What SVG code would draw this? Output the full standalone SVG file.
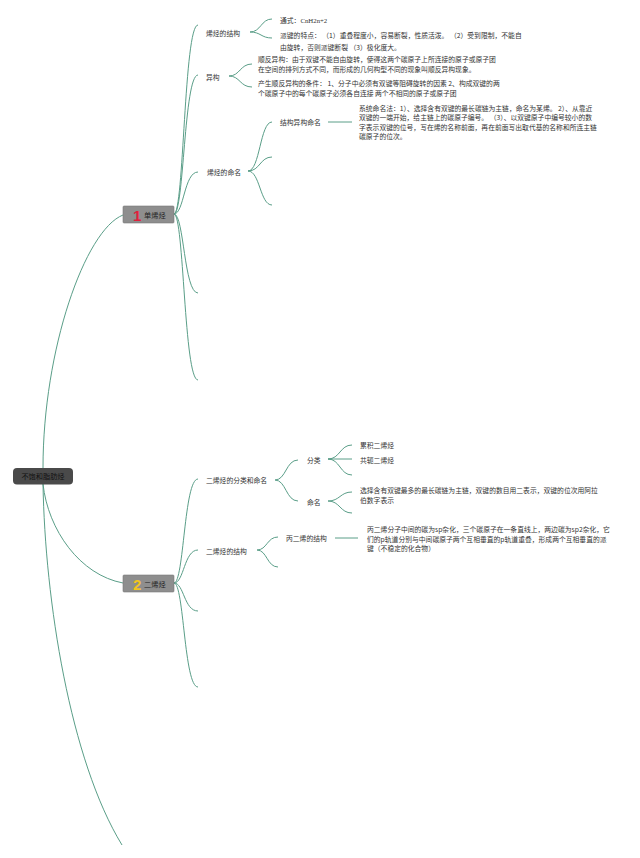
<svg xmlns="http://www.w3.org/2000/svg" width="640" height="858" viewBox="0 0 640 858">
<style>
.t{font-family:"Noto Sans CJK SC","Noto Sans",sans-serif;font-size:6.8px;fill:#333}
.c{fill:none;stroke:#5a9e88;stroke-width:1}
.box{fill:#8e8e8e;stroke:#7a7a7a;stroke-width:0.6}
.num{font-family:"Liberation Sans",sans-serif;font-weight:bold;font-size:15px}
</style>
<rect width="640" height="858" fill="#ffffff"/>
<g id="connectors">
<path class="c" d="M43,468 C43,350 85,230 123,215"/>
<path class="c" d="M43,484 C48,530 80,575 123,583"/>
<path class="c" d="M43,484 C45,600 70,760 122,845"/>
<path class="c" d="M174,214 C184,214 184,25 198,25"/>
<path class="c" d="M174,214 C184,214 184,75 198,75"/>
<path class="c" d="M174,214 C184,214 184,172 198,172"/>
<path class="c" d="M174,214 C184,214 184,293 198,293"/>
<path class="c" d="M174,214 C184,214 184,380 198,380"/>
<path class="c" d="M250,32 C261,32 261,19 272,19"/>
<path class="c" d="M250,32 C261,32 261,38 272,38"/>
<path class="c" d="M229,76 C240,76 240,64 252,64"/>
<path class="c" d="M229,76 C240,76 240,87 252,87"/>
<path class="c" d="M248,171 C260,171 260,122 272,122"/>
<path class="c" d="M248,171 C260,171 260,157 272,157"/>
<path class="c" d="M248,171 C260,171 260,205 272,205"/>
<path class="c" d="M328,122 L352,122"/>
<path class="c" d="M174,583 C184,583 184,479 198,479"/>
<path class="c" d="M174,583 C184,583 184,550 198,550"/>
<path class="c" d="M174,583 C184,583 184,611 198,611"/>
<path class="c" d="M174,583 C184,583 184,687 198,687"/>
<path class="c" d="M275,480 C286,480 286,460 298,460"/>
<path class="c" d="M275,480 C286,480 286,501 298,501"/>
<path class="c" d="M328,459 C340,459 340,445 352,445"/>
<path class="c" d="M328,459 L352,459"/>
<path class="c" d="M328,459 C340,459 340,475 352,475"/>
<path class="c" d="M328,501 C340,501 340,492 352,492"/>
<path class="c" d="M328,501 C340,501 340,513 352,513"/>
<path class="c" d="M257,550 C267,550 267,537 278,537"/>
<path class="c" d="M257,550 C267,550 267,567 278,567"/>
<path class="c" d="M335,538 L358,538"/>
</g>
<g id="root">
<rect x="13" y="468" width="60" height="16.5" rx="4" fill="#4a4a4a"/>
<text class="t" x="43" y="479" text-anchor="middle" style="font-size:7.2px;fill:#111">不饱和脂肪烃</text>
</g>
<g id="n1">
<rect class="box" x="123" y="206" width="51" height="17" rx="1"/>
<text class="num" x="133" y="220.5" fill="#e0203c">1</text>
<text class="t" x="144" y="217.5" style="font-size:7.2px;fill:#222">单烯烃</text>
</g>
<g id="n1a">
<text class="t" x="206" y="35.5">烯烃的结构</text>
</g>
<g id="n1a1">
<text class="t" x="280" y="23">通式：<tspan style="font-family:'Liberation Serif',serif">CnH2n+2</tspan></text>
</g>
<g id="n1a2">
<text class="t" x="280" y="37.5">派键的特点： （1）重叠程度小，容易断裂，性质活泼。 （2）受到限制，不能自</text>
<text class="t" x="280" y="49.5">由旋转，否则派键断裂 （3）极化度大。</text>
</g>
<g id="n1b">
<text class="t" x="206" y="79.5">异构</text>
</g>
<g id="n1b1">
<text class="t" x="258" y="61.5">顺反异构：由于双键不能自由旋转，使得这两个碳原子上所连接的原子或原子团</text>
<text class="t" x="258" y="71.5">在空间的排列方式不同，而形成的几何构型不同的现象叫顺反异构现象。</text>
</g>
<g id="n1b2">
<text class="t" x="258" y="85.5">产生顺反异构的条件： 1、分子中必须有双键等阻碍旋转的因素 2、构成双键的两</text>
<text class="t" x="258" y="95.5">个碳原子中的每个碳原子必须各自连接 两个不相同的原子或原子团</text>
</g>
<g id="n1c">
<text class="t" x="207" y="174.5">烯烃的命名</text>
</g>
<g id="n1c1">
<text class="t" x="280" y="125">结构异构命名</text>
</g>
<g id="n1c1a">
<text class="t" x="359" y="110.5">系统命名法：1）、选择含有双键的最长碳链为主链，命名为某烯。 2）、从靠近</text>
<text class="t" x="359" y="120">双键的一端开始，给主链上的碳原子编号。 （3）、以双键原子中编号较小的数</text>
<text class="t" x="359" y="129.5">字表示双键的位号，写在烯的名称前面，再在前面写出取代基的名称和所连主链</text>
<text class="t" x="359" y="139">碳原子的位次。</text>
</g>
<g id="n2">
<rect class="box" x="123" y="575" width="51" height="17" rx="1"/>
<text class="num" x="133" y="589.5" fill="#f2c520">2</text>
<text class="t" x="144" y="586.5" style="font-size:7.2px;fill:#222">二烯烃</text>
</g>
<g id="n2a">
<text class="t" x="206" y="482.5">二烯烃的分类和命名</text>
</g>
<g id="n2a1">
<text class="t" x="307" y="462.5">分类</text>
</g>
<g id="n2a1a">
<text class="t" x="360" y="447.5">累积二烯烃</text>
</g>
<g id="n2a1b">
<text class="t" x="360" y="462.5">共轭二烯烃</text>
</g>
<g id="n2a2">
<text class="t" x="307" y="504.5">命名</text>
</g>
<g id="n2a2a">
<text class="t" x="360" y="492.5">选择含有双键最多的最长碳链为主链，双键的数目用二表示，双键的位次用阿拉</text>
<text class="t" x="360" y="502.5">伯数字表示</text>
</g>
<g id="n2b">
<text class="t" x="206" y="553.5">二烯烃的结构</text>
</g>
<g id="n2b1">
<text class="t" x="286" y="540.5">丙二烯的结构</text>
</g>
<g id="n2b1a">
<text class="t" x="367" y="531.5">丙二烯分子中间的碳为sp杂化，三个碳原子在一条直线上，两边碳为sp2杂化，它</text>
<text class="t" x="367" y="541.5">们的p轨道分别与中间碳原子两个互相垂直的p轨道重叠，形成两个互相垂直的派</text>
<text class="t" x="367" y="550.5">键（不稳定的化合物）</text>
</g>
</svg>
